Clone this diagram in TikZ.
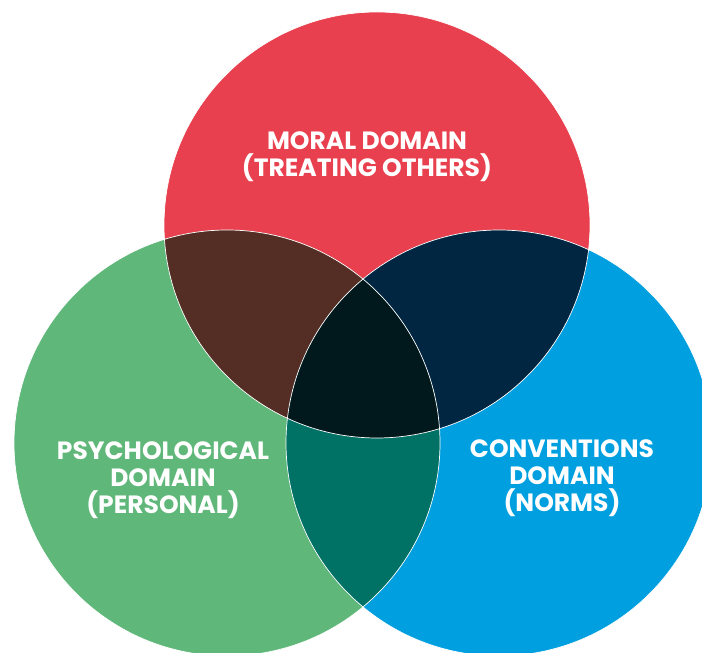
\documentclass[tikz,border=0pt]{standalone}
\usepackage{fontspec}
\setmainfont{Poppins}
\usepackage{tikz}
\definecolor{moralred}{HTML}{E8404E}
\definecolor{psychgreen}{HTML}{5FB77A}
\definecolor{convblue}{HTML}{009FE0}
\definecolor{redgreen}{HTML}{542E24}
\definecolor{redblue}{HTML}{002641}
\definecolor{greenblue}{HTML}{007265}
\definecolor{allthree}{HTML}{01191C}
\tikzset{domain label/.style={text=white,align=center,font=\bfseries\fontsize{25}{27}\selectfont,inner sep=0pt}}

\begin{document}
\begin{tikzpicture}[line cap=round,line join=round,x=1pt,y=1pt]
        \useasboundingbox (0,0) rectangle (702,653);
        \clip(0,0) rectangle (702,653);
        \fill [color=moralred] (377,428) circle (213);
        \fill [color=psychgreen] (227,210) circle (213);
        \fill [color=convblue] (499,210) circle (213);
        \begin{scope}
            \clip (377,428) circle (213);
            \fill [color=redgreen] (227,210) circle (213);
            \fill [color=redblue] (499,210) circle (213);
        \end{scope}
        \begin{scope}
            \clip (227,210) circle (213);
            \fill [color=greenblue] (499,210) circle (213);
            \clip (377,428) circle (213);
            \fill [color=allthree] (499,210) circle (213);
        \end{scope}
        \draw [color=white,line width=0.7pt] (377,428) circle (213);
        \draw [color=white,line width=0.7pt] (227,210) circle (213);
        \draw [color=white,line width=0.7pt] (499,210) circle (213);
        \node[domain label] (moral) at (367,496) {MORAL DOMAIN\\(TREATING OTHERS)};
        \node[domain label] (psych) at (163,173) {PSYCHOLOGICAL\\DOMAIN\\(PERSONAL)};
        \node[domain label] (conv) at (562,175) {CONVENTIONS\\DOMAIN\\(NORMS)};
    \end{tikzpicture}
\end{document}
